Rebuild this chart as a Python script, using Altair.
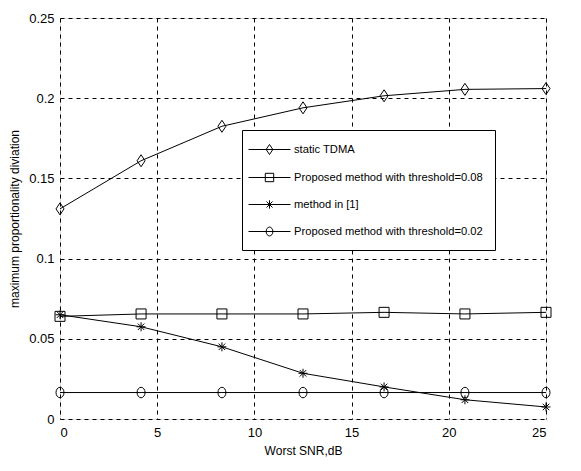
import altair as alt
import pandas as pd

snr = [0, 4.17, 8.33, 12.5, 16.67, 20.83, 25]
static_tdma = [0.131, 0.161, 0.1825, 0.194, 0.2015, 0.2055, 0.206]
prop_008 = [0.064, 0.0655, 0.0655, 0.0655, 0.0665, 0.0655, 0.0665]
method_1 = [0.065, 0.0575, 0.045, 0.0285, 0.020, 0.012, 0.0075]
prop_002 = [0.0165, 0.0165, 0.0165, 0.0165, 0.0165, 0.0165, 0.0165]

series_names = [
    "static TDMA",
    "Proposed method with threshold=0.08",
    "method in [1]",
    "Proposed method with threshold=0.02",
]
series_values = [static_tdma, prop_008, method_1, prop_002]

x_ticks = [0, 5, 10, 15, 20, 25]
y_ticks = [0, 0.05, 0.1, 0.15, 0.2, 0.25]

rows = []
for name, vals in zip(series_names, series_values):
    for x, y in zip(snr, vals):
        rows.append({"snr": x, "val": y, "series": name})
df = pd.DataFrame(rows)

markers = {
    "diamond": [(0, -1.2), (0.8, 0), (0, 1.2), (-0.8, 0)],
    "square": [(-1, -1), (1, -1), (1, 1), (-1, 1)],
}


def poly(pts, s=1.0):
    return "M" + "L".join(f"{x*s:.3f},{y*s:.3f}" for x, y in pts) + "Z"


def asterisk(s=1.0):
    a = 0.9 * s
    d = 0.65 * s
    return (f"M{-a:.3f},0L{a:.3f},0M0,{-a:.3f}L0,{a:.3f}"
            f"M{-d:.3f},{-d:.3f}L{d:.3f},{d:.3f}M{-d:.3f},{d:.3f}L{d:.3f},{-d:.3f}")


def ellipse(s=1.0):
    rx, ry = 0.8 * s, 1.05 * s
    return (f"M0,{-ry:.3f}A{rx:.3f},{ry:.3f} 0 1 1 0,{ry:.3f}"
            f"A{rx:.3f},{ry:.3f} 0 1 1 0,{-ry:.3f}Z")


mark_paths = [poly(markers["diamond"]), poly(markers["square"]), asterisk(), ellipse()]
ls = 0.6
legend_paths = [
    "M-3,0L3,0" + poly(markers["diamond"], ls),
    "M-3,0L3,0" + poly(markers["square"], ls),
    "M-3,0L3,0" + asterisk(ls * 1.1),
    "M-3,0L3,0" + ellipse(ls),
]

FONT = "Liberation Sans"

x_enc = alt.X(
    "snr:Q",
    scale=alt.Scale(domain=[0, 25], nice=False, zero=False),
    axis=alt.Axis(
        values=x_ticks, title="Worst SNR,dB", grid=True, gridDash=[4, 4],
        gridColor="black", gridOpacity=1, gridWidth=1, ticks=False, domain=False,
        labelFont=FONT, labelFontSize=13, labelColor="black", labelPadding=7,
        titleFont=FONT, titleFontSize=12, titleFontWeight="normal",
        titleColor="black", titlePadding=6,
    ),
)
y_enc = alt.Y(
    "val:Q",
    scale=alt.Scale(domain=[0, 0.25], nice=False),
    axis=alt.Axis(
        values=y_ticks, format="~g", title="maximum proportionality diviation",
        grid=True, gridDash=[4, 4], gridColor="black", gridOpacity=1, gridWidth=1,
        ticks=False, domain=False, labelFont=FONT, labelFontSize=13,
        labelColor="black", labelPadding=6, titleFont=FONT, titleFontSize=12,
        titleFontWeight="normal", titleColor="black", titlePadding=7,
    ),
)

base = alt.Chart(df)

lines = base.mark_line(color="black", strokeWidth=1).encode(
    x=x_enc, y=y_enc, detail="series:N"
)

points = base.mark_point(filled=False, color="black", strokeWidth=1, size=100, opacity=1).encode(
    x=x_enc, y=y_enc,
    shape=alt.Shape("series:N", scale=alt.Scale(domain=series_names, range=mark_paths), legend=None),
)

legend_layer = base.transform_filter("false").mark_point(
    filled=False, color="black", strokeWidth=1, opacity=1
).encode(
    x=x_enc, y=y_enc,
    shape=alt.Shape(
        "series:N",
        scale=alt.Scale(domain=series_names, range=legend_paths),
        legend=alt.Legend(
            title=None, orient="none", legendX=182, legendY=112,
            fillColor="white", strokeColor="black", padding=12,
            symbolSize=196, symbolStrokeColor="black", symbolStrokeWidth=1,
            symbolFillColor="transparent", symbolOpacity=1, symbolOffset=8,
            labelFont=FONT, labelFontSize=11.2, labelColor="black",
            labelOffset=17, rowPadding=13, labelLimit=400,
        ),
    ),
)

chart = (
    alt.layer(lines, points, legend_layer)
    .resolve_scale(shape="independent")
    .properties(width=486, height=401, padding={"left": 0, "top": 4, "right": 20, "bottom": 5})
    .configure_view(stroke="black", strokeWidth=1)
    .configure(background="white")
)

chart.save("out.html", embed_options={"renderer": "svg", "actions": False})
